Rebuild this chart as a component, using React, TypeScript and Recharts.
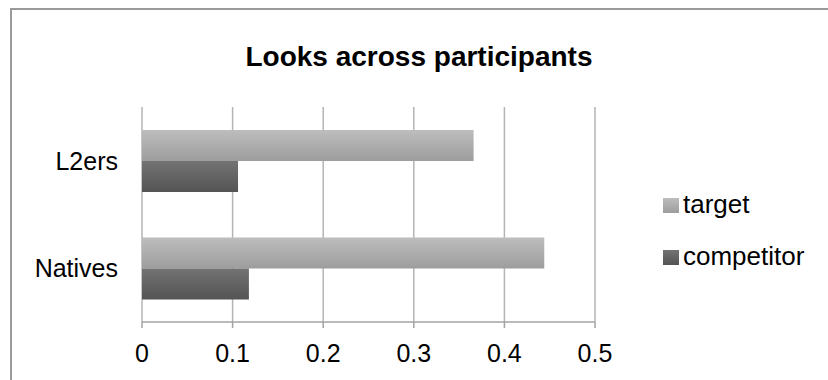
import React from 'react';
import { BarChart, Bar, XAxis, YAxis, CartesianGrid, Legend } from 'recharts';

const categories = ['L2ers', 'Natives'];
const targetLooks = [0.366, 0.444];
const competitorLooks = [0.106, 0.118];
const xTicks = [0, 0.1, 0.2, 0.3, 0.4, 0.5];
const categoryEdges = [0, 1, 2];

const series = [
  { key: 'target', label: 'target', top: '#bdbdbd', bottom: '#9d9d9d' },
  { key: 'competitor', label: 'competitor', top: '#737373', bottom: '#545454' },
];

const data = categories.map((name, i) => ({
  name,
  target: targetLooks[i],
  competitor: competitorLooks[i],
}));

const FONT = '"Liberation Sans", Arial, sans-serif';
const AXIS = '#a3a3a3';
const GRID = '#b4b4b4';

function LegendBox() {
  return (
    <div style={{ fontFamily: FONT, fontSize: 26, color: '#000' }}>
      {series.map((s) => (
        <div key={s.key} style={{ display: 'flex', alignItems: 'center', height: 52 }}>
          <span
            style={{
              width: 16,
              height: 15,
              marginRight: 4,
              position: 'relative',
              top: 1,
              background: `linear-gradient(${s.top}, ${s.bottom})`,
            }}
          />
          <span style={{ lineHeight: '52px' }}>{s.label}</span>
        </div>
      ))}
    </div>
  );
}

export default function App() {
  return (
    <div
      style={{
        position: 'absolute',
        left: 0,
        top: 0,
        width: 828,
        height: 380,
        overflow: 'hidden',
        background: '#fff',
        fontFamily: FONT,
      }}
    >
      <div
        style={{
          position: 'absolute',
          left: 10,
          top: 8,
          width: 900,
          height: 500,
          border: '2px solid #9a9a9a',
        }}
      />
      <div
        style={{
          position: 'absolute',
          left: 0,
          top: 43,
          width: 838,
          textAlign: 'center',
          fontSize: 28,
          fontWeight: 'bold',
          lineHeight: '28px',
          color: '#000',
        }}
      >
        Looks across participants
      </div>
      <div style={{ position: 'absolute', left: 0, top: 0 }}>
        <BarChart
          width={828}
          height={380}
          data={data}
          layout="vertical"
          margin={{ top: 107, right: 233, bottom: 8, left: 0 }}
          barCategoryGap="21.4%"
          barGap={0}
        >
          <defs>
            {series.map((s) => (
              <linearGradient key={s.key} id={`grad-${s.key}`} x1="0" y1="0" x2="0" y2="1">
                <stop offset="0%" stopColor={s.top} />
                <stop offset="100%" stopColor={s.bottom} />
              </linearGradient>
            ))}
          </defs>
          <CartesianGrid horizontal={false} stroke={GRID} strokeWidth={1.5} yAxisId="cat" />
          <XAxis
            type="number"
            domain={[0, 0.5]}
            ticks={xTicks}
            interval={0}
            height={50}
            tickSize={6}
            tickMargin={16}
            axisLine={{ stroke: AXIS, strokeWidth: 1.5 }}
            tickLine={{ stroke: AXIS, strokeWidth: 1.5 }}
            tick={{ fontSize: 25, fill: '#000' }}
            tickFormatter={(v: number) => String(v)}
          />
          {/* category boundaries: ticks between the groups, no labels */}
          <YAxis
            yAxisId="edge"
            type="number"
            domain={[0, 2]}
            ticks={categoryEdges}
            interval={0}
            width={0}
            tickSize={9}
            axisLine={{ stroke: AXIS, strokeWidth: 1.5 }}
            tickLine={{ stroke: AXIS, strokeWidth: 1.5 }}
            tick={false}
          />
          <YAxis
            yAxisId="cat"
            type="category"
            dataKey="name"
            width={142}
            axisLine={false}
            tickLine={false}
            tickSize={0}
            tickMargin={24}
            tick={{ fontSize: 25, fill: '#000' }}
          />
          {series.map((s) => (
            <Bar
              key={s.key}
              dataKey={s.key}
              name={s.label}
              yAxisId="cat"
              fill={`url(#grad-${s.key})`}
              isAnimationActive={false}
            />
          ))}
          <Legend
            layout="horizontal"
            align="center"
            verticalAlign="middle"
            wrapperStyle={{ left: 663, top: 178, width: 165 }}
            content={() => <LegendBox />}
          />
        </BarChart>
      </div>
    </div>
  );
}
